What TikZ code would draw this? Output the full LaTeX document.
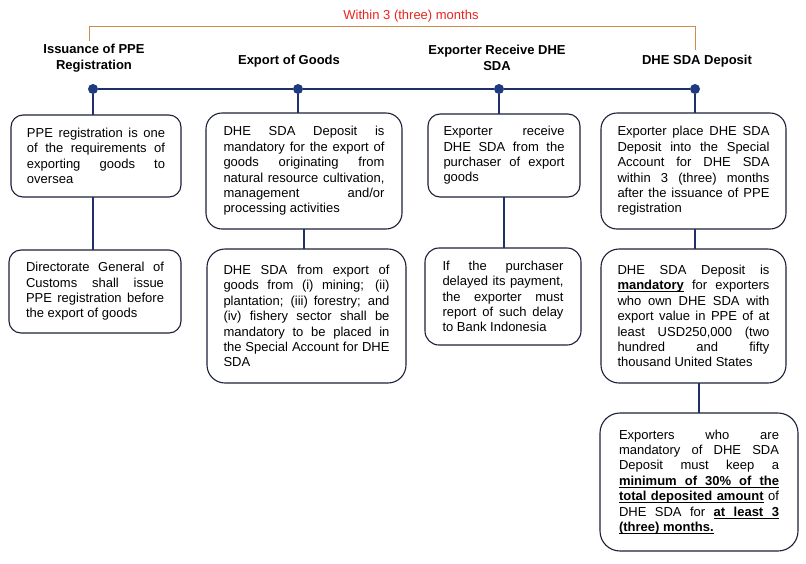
\documentclass[tikz,border=0pt]{standalone}
\usepackage{fontspec}
\setmainfont{Liberation Sans}
\usepackage{tikz}
\usetikzlibrary{calc}

\definecolor{navy}{HTML}{1F2F6B}
\definecolor{dotblue}{HTML}{1F3A80}
\definecolor{boxline}{HTML}{1A2038}
\definecolor{bracketline}{HTML}{D08A4E}
\definecolor{limitred}{HTML}{E8231E}

\tolerance=10000
\hbadness=10000
\hyphenpenalty=10000

% underlined words with stretchable underlined spaces
\newcommand{\ulw}[1]{\setbox0\hbox{#1}\rlap{\vrule height -1.6pt depth 2.6pt width \wd0}\box0}
\newcommand{\ulsp}{\leaders\vrule height -1.6pt depth 2.6pt\hskip\fontdimen2\font plus\fontdimen3\font minus\fontdimen4\font}
\def\ulrun#1 #2\ulend{\ulw{#1}\ifx\relax#2\relax\else\ulsp\ulrun#2\ulend\fi}
\newcommand{\ulphrase}[1]{\ulrun#1 \ulend}

\tikzset{
  infobox/.style={draw=boxline, line width=1.1pt, rounded corners=12pt, anchor=north west, outer sep=0pt,
    align=justify, inner ysep=3pt, font=\fontsize{13}{15.4}\selectfont},
  heading/.style={font=\fontsize{13}{15.5}\selectfont\bfseries, align=center, inner sep=0pt},
  dot/.style={circle, fill=dotblue, inner sep=0pt, minimum size=10pt},
  link/.style={navy, line width=1.1pt},
}

\begin{document}
\begin{tikzpicture}[x=1pt, y=-1pt]
		\useasboundingbox (0,0) rectangle (806,563);

		% period bracket
		\node[font=\fontsize{13}{15.5}\selectfont, text=limitred, inner sep=0pt] (limit) at (411,16) {Within 3 (three) months};
		\coordinate (bl) at (89,41);
		\coordinate (bltop) at (89,26);
		\coordinate (br) at (695,50);
		\coordinate (brtop) at (695,26);
		\draw[bracketline, line width=1pt] (bl) -- (bltop) -- (brtop) -- (br);

		% stage headings
		\node[heading] (issue) at (94,58) {Issuance of PPE\\Registration};
		\node[heading] (export) at (289,61) {Export of Goods};
		\node[heading] (receive) at (497,58) {Exporter Receive DHE\\SDA};
		\node[heading] (deposit) at (697,61) {DHE SDA Deposit};

		% timeline
		\node[dot] (dot1) at (93,89) {};
		\node[dot] (dot2) at (298,89) {};
		\node[dot] (dot3) at (499,89) {};
		\node[dot] (dot4) at (695,89) {};
		\draw[link, line width=1.3pt] (dot1) -- (dot2) -- (dot3) -- (dot4);

		% boxes
		\node[infobox, text width=138pt, inner xsep=16pt, minimum height=82pt] (ppeA) at (11,115)
			{PPE registration is one\linebreak of the requirements of\linebreak exporting goods to\linebreak oversea};
		\node[infobox, text width=138pt, inner xsep=17pt, minimum height=83pt] (ppeB) at (9,250)
			{Directorate General of\linebreak Customs shall issue\linebreak PPE registration before\linebreak the export of goods};

		\node[infobox, text width=161pt, inner xsep=17.5pt, minimum height=116pt, rounded corners=16pt] (goodsA) at (206,113)
			{DHE SDA Deposit is\linebreak mandatory for the export of\linebreak goods originating from\linebreak natural resource cultivation,\linebreak management and/or\linebreak processing activities};
		\node[infobox, text width=166pt, inner xsep=16.5pt, minimum height=134pt, rounded corners=18pt] (goodsB) at (207,249)
			{DHE SDA from export of\linebreak goods from (i) mining; (ii)\linebreak plantation; (iii) forestry; and\linebreak (iv) fishery sector shall be\linebreak mandatory to be placed in\linebreak the Special Account for DHE\linebreak SDA};

		\node[infobox, text width=121pt, inner xsep=15.5pt, minimum height=83pt] (receiveA) at (428,114)
			{Exporter receive\linebreak DHE SDA from the\linebreak purchaser of export\linebreak goods};
		\node[infobox, text width=121pt, inner xsep=17.5pt, minimum height=97pt, rounded corners=14pt] (receiveB) at (425,248)
			{If the purchaser\linebreak delayed its payment,\linebreak the exporter must\linebreak report of such delay\linebreak to Bank Indonesia};

		\node[infobox, text width=152pt, inner xsep=16.5pt, minimum height=116pt, rounded corners=16pt] (depositA) at (601,113)
			{Exporter place DHE SDA\linebreak Deposit into the Special\linebreak Account for DHE SDA\linebreak within 3 (three) months\linebreak after the issuance of PPE\linebreak registration};
		\node[infobox, text width=152pt, inner xsep=16.5pt, minimum height=134pt, rounded corners=18pt] (depositB) at (601,249)
			{\parfillskip=0pt DHE SDA Deposit is\linebreak {\bfseries\ulphrase{mandatory}} for exporters\linebreak who own DHE SDA with\linebreak export value in PPE of at\linebreak least USD250,000 (two\linebreak hundred and fifty\linebreak thousand United States};
		\node[infobox, text width=160pt, inner xsep=19pt, minimum height=138pt, rounded corners=20pt] (depositC) at (600,413)
			{Exporters who are\linebreak mandatory of DHE SDA\linebreak Deposit must keep a\linebreak {\bfseries\ulphrase{minimum of 30\% of the}}\linebreak {\bfseries\ulphrase{total deposited amount}} of\linebreak DHE SDA for {\bfseries\ulphrase{at least 3}}\linebreak {\bfseries\ulphrase{(three) months.}}};

		% connectors
		\draw[link] (dot1) -- (dot1 |- ppeA.north);
		\draw[link] (dot1 |- ppeA.south) -- (dot1 |- ppeB.north);
		\draw[link] (dot2) -- (dot2 |- goodsA.north);
		\draw[link] (goodsA.south) -- (goodsA.south |- goodsB.north);
		\draw[link] (dot3) -- (dot3 |- receiveA.north);
		\draw[link] (receiveA.south) -- (receiveA.south |- receiveB.north);
		\draw[link] (dot4) -- (dot4 |- depositA.north);
		\draw[link] (dot4 |- depositA.south) -- (dot4 |- depositB.north);
		\draw[link] (depositC.north |- depositB.south) -- (depositC.north);
		\end{tikzpicture}
\end{document}
